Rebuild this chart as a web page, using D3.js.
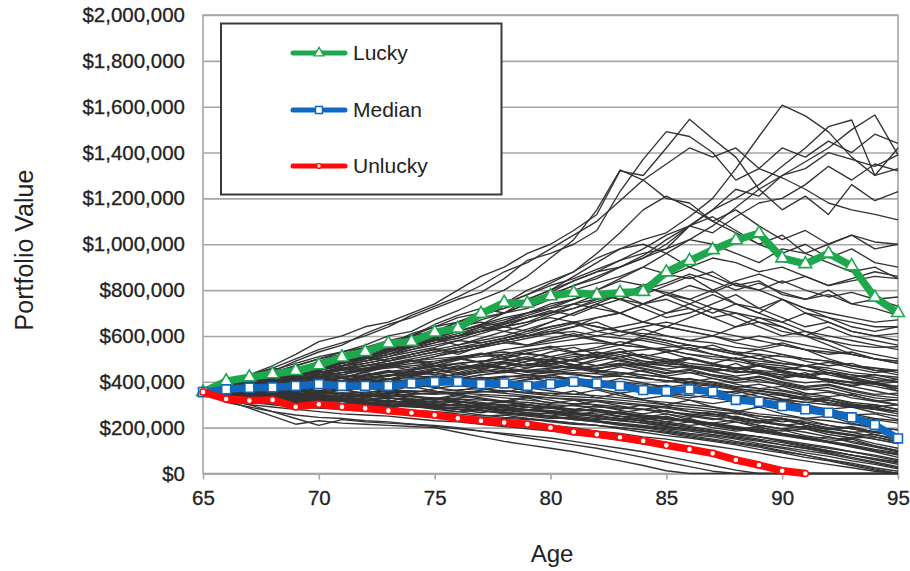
<!DOCTYPE html>
<html>
<head>
<meta charset="utf-8">
<script src="https://cdn.jsdelivr.net/npm/d3@7"></script>
<style>
  body { margin: 0; background: #fff; }
  svg { display: block; font-family: "Liberation Sans", Arial, sans-serif; }
</style>
</head>
<body>
<svg id="chart" width="910" height="571"></svg>
<script>
// Ages on the horizontal axis (one point per year)
const ages = [65,66,67,68,69,70,71,72,73,74,75,76,77,78,79,80,81,82,83,84,85,86,87,88,89,90,91,92,93,94,95];
const xTickValues = [65,70,75,80,85,90,95];
const yTickValues = [0,200000,400000,600000,800000,1000000,1200000,1400000,1600000,1800000,2000000];

// Highlighted scenarios, portfolio value in $ thousands
const lucky   = [355,403,420,434,448,473,507,531,568,575,616,633,697,745,742,774,789,779,789,793,878,928,975,1018,1048,939,914,960,905,768,701];
const median  = [355,367,374,376,382,390,382,382,382,393,400,400,390,393,382,390,400,393,382,364,359,367,357,321,313,294,280,265,245,212,153];
const unlucky = [355,325,318,321,291,302,291,284,274,265,255,241,230,222,215,200,182,171,158,142,123,106,88,59,37,12,0,null,null,null,null];

// Individual simulated paths, $ thousands, ages 65..95
const simPaths = [
  [355,395,430,470,520, 575,600,640,660,700, 740,800,860,900,960, 1000,1060,1130,1320,1300, 1420,1545,1460,1380,1240, 1150,1210,1130,1260,1190, 1230],
  [355,380,420,445,490, 530,560,610,650,680, 720,760,790,850,930, 960,1000,1060,1230,1370, 1491,1470,1400,1280,1330, 1420,1380,1450,1400,1480, 1440],
  [355,370,400,420,450, 470,500,540,570,600, 650,690,720,700,760, 800,860,920,980,1020, 1050,1120,1200,1330,1470, 1607,1560,1490,1380,1300, 1330],
  [355,385,410,440,430, 470,510,520,560,610, 640,660,700,740,780, 820,850,890,930,960, 980,1080,1150,1240,1210, 1300,1360,1420,1500,1564, 1390],
  [355,375,395,430,460, 480,500,530,560,580, 610,640,690,720,750, 790,840,880,900,950, 1020,1080,1150,1200,1260, 1340,1420,1513,1542,1300, 1420],
  [355,390,420,460,500, 540,570,600,640,690, 730,770,820,880,920, 980,1040,1100,1190,1280, 1350,1420,1380,1420,1330, 1290,1240,1180,1150,1130, 1106],
  [355,370,390,410,440, 470,490,510,540,570, 600,640,680,700,740, 780,820,860,900,940, 1000,1080,1050,1120,1180, 1200,1260,1340,1280,1350, 1320],
  [355,380,400,440,470, 500,530,560,600,620, 670,710,760,800,860, 940,1020,1150,1324,1280, 1200,1180,1100,1150,1080, 1020,1060,1000,1040,980, 1000],
  [355,365,390,420,440, 460,480,520,560,580, 620,660,700,740,780, 830,880,960,1050,1150, 1210,1160,1100,1050,1000, 1040,960,920,880,900, 850],
  [355,370,380,400,430, 450,470,500,520,550, 580,600,640,660,700, 740,760,800,850,900, 960,1020,1080,1160,1240, 1300,1330,1400,1370,1340, 1390],
  [355,380,400,430,450, 490,520,550,580,600, 640,680,700,720,760, 800,840,880,930,980, 1040,1080,1120,1060,1000, 960,1000,940,980,920, 900],
  [355,375,400,420,450, 480,500,540,560,600, 620,660,700,740,800, 840,880,940,980,1000, 960,900,860,820,840, 780,760,800,740,720, 690],
  [355,370,400,420,450, 470,500,520,550,580, 600,630,670,700,720, 760,800,830,860,900, 870,850,880,820,800, 760,720,700,680,660, 670],
  [355,360,380,400,420, 450,470,490,520,540, 570,600,620,650,680, 700,720,760,800,780, 820,860,800,740,700, 760,720,680,640,620, 640],
  [355,380,400,410,440, 460,480,500,530,560, 580,600,620,640,680, 700,740,780,760,720, 680,700,740,780,720, 680,640,660,620,600, 611],
  [355,365,385,405,420, 440,460,480,500,520, 540,560,580,600,630, 660,700,740,780,820, 860,900,940,920,880, 900,860,820,840,860, 850],
  [355,375,390,420,440, 470,490,510,540,560, 600,620,650,700,740, 780,820,850,900,940, 980,1020,1000,960,920, 980,960,1000,1040,1010, 1000],
  [355,360,375,390,410, 430,450,470,480,500, 520,540,560,580,600, 620,640,680,700,740, 760,720,680,700,660, 640,600,580,560,550, 553],
  [355,370,385,400,420, 440,455,470,490,510, 530,550,570,590,620, 640,660,680,700,660, 640,620,600,640,680, 640,600,560,520,500, 480],
  [355,365,380,395,410, 425,440,460,475,490, 510,540,560,580,600, 620,600,580,560,600, 640,680,720,700,680, 660,700,680,660,640, 640],
  [355,370,395,415,430, 450,470,490,510,530, 550,580,610,640,660, 700,740,720,700,740, 780,760,720,680,640, 600,620,580,540,520, 500],
  [355,360,370,390,410, 420,440,450,470,490, 510,530,550,570,590, 610,640,660,620,600, 580,560,540,520,540, 560,540,500,470,450, 450],
  [355,380,400,425,445, 470,495,520,545,570, 595,620,645,670,700, 730,760,790,760,800, 830,870,840,800,830, 790,760,780,740,760, 730],
  [355,370,395,420,440, 460,485,505,530,555, 580,600,630,655,680, 710,690,730,760,740, 780,820,790,830,800, 840,800,770,790,760, 770],
  [355,375,400,415,440, 465,485,510,535,560, 585,610,640,620,650, 690,720,750,780,810, 790,760,800,840,870, 830,860,820,850,880, 860],
  [355,365,372,390,385, 400,415,410,430,445, 440,460,470,465,490, 500,520,510,500,490, 480,470,460,440,445, 430,420,410,395,390, 380],
  [355,350,360,375,370, 385,390,400,395,410, 420,415,430,440,450, 445,460,470,480,470, 450,440,430,420,400, 390,370,360,340,320, 300],
  [355,345,340,350,360, 355,365,370,380,375, 385,390,400,395,410, 420,415,405,400,390, 380,365,350,340,320, 310,300,280,260,240, 230],
  [355,370,380,400,410, 420,430,450,460,470, 480,500,510,520,540, 550,560,570,560,550, 540,520,510,500,490, 480,470,460,440,430, 420],
  [355,340,330,340,350, 345,350,355,360,350, 345,350,355,360,350, 340,335,330,320,310, 300,290,280,270,250, 240,220,200,180,160, 140],
  [355,360,355,365,375, 370,380,390,400,410, 405,400,410,420,430, 420,410,400,390,380, 370,360,350,340,330, 320,310,300,290,280, 270],
  [355,335,320,315,310, 320,315,305,300,305, 300,295,290,280,275, 270,260,250,240,230, 220,205,190,175,160, 140,120,100,80,60, 40],
  [355,370,390,400,420, 440,450,460,480,490, 500,510,520,530,520, 510,530,540,560,550, 540,520,500,490,470, 460,450,440,430,410, 400],
  [355,345,350,340,330, 335,340,345,340,335, 330,325,320,315,310, 300,295,290,285,280, 270,260,250,240,225, 210,195,180,165,150, 130],
  [355,360,375,385,395, 410,420,425,440,450, 465,480,490,500,480, 470,460,450,440,430, 420,410,400,380,370, 360,340,330,310,300, 280],
  [355,350,345,355,365, 360,370,380,375,385, 395,400,410,420,430, 440,450,460,470,480, 470,460,455,445,440, 430,420,410,395,380, 360],
  [355,330,310,300,290, 285,280,275,270,265, 260,250,245,240,235, 230,220,210,200,190, 180,165,150,135,120, 100,80,60,40,20, 0],
  [355,365,360,370,365, 375,380,370,365,360, 355,350,345,340,335, 330,325,320,310,300, 290,280,270,260,250, 240,225,210,195,180, 165],
  [355,375,395,410,430, 440,460,470,490,510, 530,550,560,580,600, 610,620,600,590,580, 560,540,520,500,480, 470,450,430,410,390, 370],
  [355,340,325,320,315, 310,305,300,295,290, 285,280,275,265,255, 245,235,225,215,205, 195,185,170,155,140, 125,110,95,80,65, 50],
  [355,350,360,350,345, 355,350,345,350,360, 355,365,370,360,355, 350,345,340,330,320, 310,300,290,275,260, 250,240,230,215,200, 190],
  [355,365,380,395,400, 415,425,430,445,455, 470,480,490,480,470, 465,460,450,440,430, 420,400,390,370,360, 350,330,320,300,290, 270],
  [355,320,300,290,280, 270,260,255,250,240, 230,225,215,205,195, 185,175,160,145,130, 115,100,80,60,40, 20,0,0,0,0, 0],
  [355,360,365,370,380, 385,395,400,410,420, 425,430,440,450,445, 440,430,420,425,415, 405,395,385,370,360, 345,330,320,300,285, 270],
  [355,345,335,330,325, 330,325,320,315,310, 315,310,305,300,290, 285,280,270,260,250, 240,230,215,200,185, 170,155,140,120,100, 80],
  [355,375,385,400,415, 430,440,455,465,480, 490,505,520,540,555, 570,585,600,620,610, 600,580,570,550,540, 520,500,490,470,460, 440],
  [355,340,345,335,340, 345,350,340,335,345, 350,355,360,350,340, 330,320,315,305,295, 285,270,260,245,230, 215,200,185,170,150, 130],
  [355,310,290,270,255, 245,240,230,225,215, 205,195,185,175,165, 155,140,125,110,95, 75,55,35,15,0, 0,0,0,0,0, 0],
  [355,320,285,250,215, 230,220,215,210,205, 200,180,160,140,125, 110,95,75,55,35, 12,0,0,0,0, 0,0,0,0,0, 0],
  [355,330,300,270,240, 210,235,225,220,215, 210,200,185,170,155, 140,125,110,90,70, 50,30,10,0,0, 0,0,0,0,0, 0],
  [355,380,410,430,460, 480,500,490,510,540, 560,580,570,590,610, 640,660,640,620,600, 580,560,540,520,500, 480,470,450,430,420, 400],
  [355,385,420,450,480, 510,530,550,540,560, 580,600,620,640,660, 680,660,640,620,640, 660,640,620,600,580, 560,540,530,520,500, 480],
  [355,345,360,380,395, 390,405,420,430,425, 440,455,470,460,450, 460,470,490,510,520, 500,480,470,460,450, 440,420,410,400,390, 370],
  [355,350,340,335,345, 340,330,320,330,325, 320,330,340,330,320, 310,305,300,290,280, 270,255,240,225,210, 195,180,160,140,120, 100],
  [355,370,365,380,395, 405,400,415,425,435, 450,465,475,490,500, 495,510,520,530,540, 550,560,545,530,520, 510,500,490,470,460, 450],
  [355,340,330,325,335, 330,320,310,300,295, 290,280,275,265,260, 250,240,230,220,210, 200,190,180,170,160, 145,130,115,95,75, 55],
  [355,365,375,385,380, 395,405,410,400,395, 405,415,410,400,395, 390,385,380,370,360, 350,340,330,315,300, 290,280,265,250,235, 220],
  [355,380,400,420,440, 455,470,480,500,520, 540,530,550,570,560, 580,600,620,640,660, 640,620,600,580,600, 580,560,540,520,500, 490],
  [355,335,315,320,310, 305,300,305,310,300, 295,300,295,290,280, 275,265,260,250,245, 235,225,210,195,180, 165,150,135,115,95, 70],
  [355,360,350,355,365, 375,385,380,390,400, 395,405,415,425,420, 430,440,435,425,415, 405,390,380,365,350, 340,325,310,295,280, 260],
  [355,375,395,420,445, 460,490,510,540,560, 590,620,650,680,700, 720,740,760,780,740, 700,720,680,640,660, 620,600,640,600,580, 560],
  [355,370,390,410,430, 450,480,500,520,550, 570,590,620,660,690, 720,760,800,840,820, 780,740,700,740,700, 660,620,600,580,560, 540],
  [355,380,410,440,470, 500,520,540,570,600, 620,640,660,640,620, 660,700,740,700,660, 700,740,780,740,720, 760,700,660,620,600, 580],
  [355,380,360,390,410, 380,400,430,410,440, 460,430,450,480,460, 490,470,500,520,490, 470,500,480,450,470, 440,420,440,410,390, 400],
  [355,340,360,345,330, 350,370,345,360,380, 360,340,365,380,360, 340,360,330,350,320, 300,320,290,270,290, 260,240,250,220,200, 190],
  [355,370,350,375,395, 420,400,430,450,425, 455,480,460,490,510, 480,500,530,510,480, 500,470,450,480,440, 420,440,400,380,400, 370],
  [355,330,345,320,335, 310,325,300,320,305, 290,305,280,295,275, 290,265,250,270,240, 225,240,210,190,205, 175,160,140,150,120, 100],
  [355,375,400,385,410, 435,415,445,470,450, 480,505,485,520,500, 530,550,520,545,510, 530,500,480,505,470, 450,470,440,420,430, 410],
  [355,345,335,355,340, 360,345,330,350,335, 320,340,325,310,330, 305,320,295,280,300, 270,255,270,245,230, 240,210,190,200,170, 150],
  [355,365,385,370,390, 405,390,415,400,425, 440,420,445,460,440, 455,470,445,430,450, 420,400,415,390,370, 380,350,335,345,315, 300],
  [355,390,415,440,420, 455,480,505,490,520, 545,520,555,580,560, 590,610,585,560,590, 570,540,560,525,500, 520,490,470,480,450, 430],
  [355,335,350,365,345, 330,350,335,355,340, 325,345,330,315,335, 320,300,315,295,280, 295,270,255,265,240, 225,235,210,195,180, 165],
  [355,360,380,400,380, 360,385,405,390,375, 400,420,405,385,410, 430,410,390,415,395, 375,390,365,350,365, 340,320,330,305,290, 300],
  [355,370,355,340,360, 380,365,350,370,390, 375,360,380,400,385, 370,390,370,350,365, 345,330,345,320,305, 320,295,280,290,265, 250],
  [355,385,405,395,420, 440,465,450,475,495, 480,505,525,510,535, 555,530,550,575,555, 530,550,520,500,515, 490,470,485,460,440, 450],
  [355,340,325,340,355, 340,325,340,330,315, 330,315,300,315,300, 285,300,280,265,280, 260,245,260,235,220, 235,210,195,205,180, 170],
  [355,375,395,380,400, 420,405,430,445,425, 450,470,455,480,500, 475,495,515,490,470, 490,465,445,460,435, 415,430,400,385,395, 360],
  [355,345,360,375,360, 345,365,380,365,350, 370,385,370,355,375, 360,345,365,340,325, 340,320,305,320,295, 280,295,270,255,260, 235],
  [355,380,365,390,410, 395,420,440,425,450, 470,455,480,465,490, 510,490,470,495,475, 455,470,445,425,440, 410,395,405,380,360, 340],
  [355,330,315,330,310, 300,315,300,285,300, 285,270,285,270,255, 265,245,235,250,225, 210,225,200,185,195, 170,150,160,135,115, 95],
  [355,365,350,370,385, 370,390,405,390,410, 425,410,430,445,430, 450,435,420,440,420, 400,415,395,375,390, 365,345,355,330,315, 320],
  [355,395,430,460,445, 480,510,540,520,555, 585,560,590,620,600, 630,655,620,600,630, 600,580,600,570,550, 570,540,520,530,500, 490],
  [355,350,370,355,375, 390,375,395,380,400, 415,400,385,405,420, 400,385,405,385,370, 385,360,345,360,335, 320,335,305,290,300, 280],
  [355,360,345,330,345, 330,315,330,345,325, 310,325,310,295,310, 295,280,295,275,260, 275,250,235,250,225, 210,220,195,180,185, 160],
  [355,385,410,400,425, 445,430,455,475,460, 480,500,485,505,525, 510,490,510,530,505, 485,500,475,455,470, 445,430,440,420,400, 410],
  [355,345,330,345,325, 310,325,310,295,310, 295,280,265,280,265, 250,265,245,230,245, 225,210,220,200,180, 190,165,150,155,130, 110],
  [355,370,390,375,395, 415,400,425,445,430, 455,440,465,485,470, 495,475,455,480,460, 440,455,430,410,425, 400,380,390,365,345, 350],
  [355,355,375,360,380, 395,380,400,415,400, 385,405,420,405,390, 410,395,380,400,380, 360,375,350,335,350, 325,310,320,295,280, 270],
  [355,340,355,340,325, 340,325,315,330,315, 300,315,300,285,300, 285,270,280,260,245, 260,235,220,235,210, 195,205,180,165,170, 145],
  [355,380,400,425,405, 430,455,440,465,490, 470,495,520,500,525, 545,525,505,530,510, 490,505,480,460,475, 450,430,440,415,395, 380],
  [355,365,380,395,380, 400,420,405,425,445, 430,450,470,455,475, 495,475,455,475,455, 435,450,425,405,420, 395,375,385,360,340, 330],
  [355,335,350,335,320, 335,320,305,320,305, 290,305,290,275,290, 270,255,270,250,235, 250,225,210,225,200, 185,195,170,155,160, 135],
  [355,375,360,380,400, 385,405,390,410,430, 415,435,455,440,460, 480,460,440,465,445, 425,440,415,395,410, 385,365,375,350,330, 320],
  [355,340,325,330,315, 320,305,300,290,295, 280,270,275,260,250, 240,245,230,215,205, 190,175,165,150,130, 115,100,85,65,45, 25],
  [355,345,355,340,330, 335,325,315,320,305, 295,300,285,275,280, 265,250,255,235,220, 205,190,180,160,145, 125,110,90,70,50, 30],
  [355,335,320,310,300, 305,295,285,290,275, 265,270,255,245,240, 225,215,210,195,180, 165,155,140,125,105, 90,70,55,35,15, 0],
  [355,350,340,345,335, 325,330,320,310,315, 305,295,300,285,275, 270,260,250,240,230, 215,200,185,170,160, 140,125,110,95,80, 60],
  [355,340,345,330,320, 325,315,300,305,295, 285,290,275,265,255, 250,235,225,210,200, 185,170,160,140,125, 110,90,75,55,40, 20],
  [355,325,305,310,295, 285,290,280,270,265, 255,245,240,230,220, 210,200,185,175,160, 150,135,120,105,90, 70,55,40,25,10, 0],
  [355,360,350,345,350, 340,335,340,330,320, 325,315,305,310,300, 290,280,275,265,255, 245,230,220,205,190, 175,160,140,125,105, 90],
  [355,345,330,335,325, 315,320,310,300,305, 295,285,290,275,265, 260,250,240,230,220, 205,195,180,165,150, 135,115,100,80,65, 45],
  [355,350,355,345,340, 345,335,325,330,320, 310,315,305,295,300, 285,275,280,265,250, 240,230,215,200,190, 170,155,135,120,100, 85],
  [355,330,315,320,305, 300,290,295,285,275, 270,260,250,255,240, 230,220,210,200,190, 175,160,145,130,115, 95,80,60,45,25, 10]
];

const svg = d3.select("#chart");
const plotLeft = 203, plotRight = 898, plotTop = 15, plotBottom = 473.5;

const x = d3.scaleLinear().domain([65, 95]).range([plotLeft, plotRight]);
const y = d3.scaleLinear().domain([0, 2000000]).range([plotBottom, plotTop]);

// Horizontal gridlines + value labels
const yAxis = d3.axisLeft(y)
  .tickValues(yTickValues)
  .tickSizeInner(-(plotRight - plotLeft))
  .tickSizeOuter(0)
  .tickPadding(18)
  .tickFormat(d => "$" + d3.format(",")(d));

const gY = svg.append("g").attr("transform", `translate(${plotLeft},0)`).call(yAxis);
gY.select(".domain").remove();
gY.selectAll(".tick line").attr("stroke", "#a6a6a6").attr("stroke-width", 1.6);
gY.selectAll(".tick text")
  .attr("fill", "#222")
  .attr("stroke", "#222")
  .attr("stroke-width", 0.3)
  .style("font-size", "20.5px");

// Plot frame
svg.append("rect")
  .attr("x", plotLeft).attr("y", plotTop)
  .attr("width", plotRight - plotLeft).attr("height", plotBottom - plotTop)
  .attr("fill", "none").attr("stroke", "#a6a6a6").attr("stroke-width", 1.6);

// Age axis
const xAxis = d3.axisBottom(x)
  .tickValues(xTickValues)
  .tickSizeInner(6)
  .tickSizeOuter(0)
  .tickPadding(11)
  .tickFormat(d3.format("d"));

const gX = svg.append("g").attr("transform", `translate(0,${plotBottom})`).call(xAxis);
gX.select(".domain").attr("stroke", "#a6a6a6").attr("stroke-width", 1.6);
gX.selectAll(".tick line").attr("stroke", "#a6a6a6").attr("stroke-width", 1.6);
gX.selectAll(".tick text")
  .attr("fill", "#222")
  .attr("stroke", "#222")
  .attr("stroke-width", 0.3)
  .style("font-size", "20.5px");

// Axis titles
svg.append("text")
  .attr("x", 552).attr("y", 562)
  .attr("text-anchor", "middle")
  .attr("fill", "#222")
  .style("font-size", "24px")
  .text("Age");

svg.append("text")
  .attr("transform", "translate(33,250) rotate(-90)")
  .attr("text-anchor", "middle")
  .attr("fill", "#222")
  .style("font-size", "25px")
  .text("Portfolio Value");

// Simulated paths
const line = d3.line()
  .defined(d => d != null)
  .x((d, i) => x(ages[i]))
  .y(d => y(d * 1000));

svg.append("g")
  .selectAll("path")
  .data(simPaths)
  .join("path")
  .attr("d", line)
  .attr("fill", "none")
  .attr("stroke", "#333")
  .attr("stroke-width", 1.35)
  .attr("stroke-linejoin", "round");

// Highlighted scenarios
const scenarios = [
  { name: "Lucky",   values: lucky,   color: "#1ea84e", symbol: d3.symbolTriangle, size: 70, sw: 1.6 },
  { name: "Median",  values: median,  color: "#1068c1", symbol: d3.symbolSquare,   size: 80, sw: 1.6 },
  { name: "Unlucky", values: unlucky, color: "#ff0a0a", symbol: d3.symbolCircle,   size: 30, sw: 1.5 }
];

scenarios.forEach(s => {
  const g = svg.append("g");
  g.append("path")
    .attr("d", line(s.values))
    .attr("fill", "none")
    .attr("stroke", s.color)
    .attr("stroke-width", 7.5)
    .attr("stroke-linejoin", "round");
  g.selectAll(".mk")
    .data(s.values.map((v, i) => ({ age: ages[i], v })).filter(d => d.v != null))
    .join("path")
    .attr("class", "mk")
    .attr("transform", d => `translate(${x(d.age)},${y(d.v * 1000)})`)
    .attr("d", d3.symbol(s.symbol, s.size))
    .attr("fill", "#fff")
    .attr("stroke", s.color)
    .attr("stroke-width", s.sw);
});

// Legend
const legend = svg.append("g");
legend.append("rect")
  .attr("x", 221).attr("y", 23.5)
  .attr("width", 280.5).attr("height", 171)
  .attr("fill", "#fff")
  .attr("stroke", "#3a3a3a")
  .attr("stroke-width", 2);

const legendRows = [53, 110, 166];
scenarios.forEach((s, i) => {
  const ly = legendRows[i];
  legend.append("line")
    .attr("x1", 293).attr("x2", 345)
    .attr("y1", ly).attr("y2", ly)
    .attr("stroke", s.color)
    .attr("stroke-width", 5)
    .attr("stroke-linecap", "round");
  legend.append("path")
    .attr("transform", `translate(319,${ly})`)
    .attr("d", d3.symbol(s.symbol, s.size * 0.6))
    .attr("fill", "#fff")
    .attr("stroke", s.color)
    .attr("stroke-width", 1.4);
  legend.append("text")
    .attr("x", 353).attr("y", ly)
    .attr("dy", "0.35em")
    .attr("fill", "#222")
    .style("font-size", "21px")
    .text(s.name);
});
</script>
</body>
</html>
